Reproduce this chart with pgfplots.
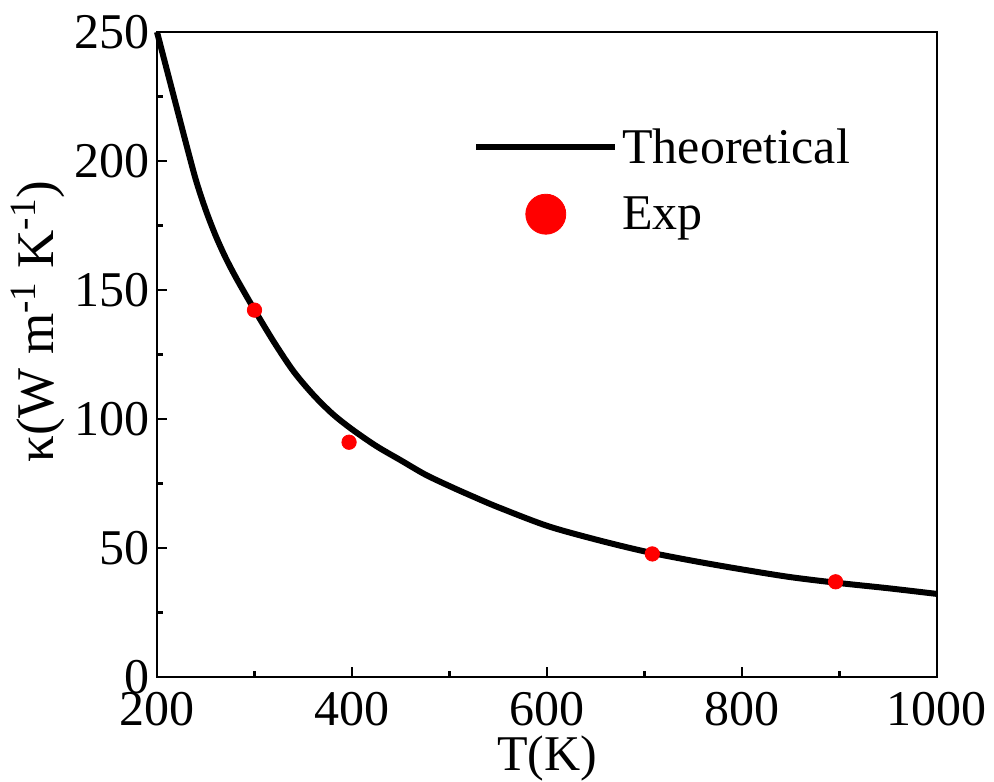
\documentclass[border=0pt]{standalone}
\usepackage{fontspec}
\setmainfont{Liberation Serif}
\usepackage{pgfplots}
\pgfplotsset{compat=1.18}
\begin{document}
\begin{tikzpicture}
\useasboundingbox (-78.5pt,-52pt) rectangle (418.5pt,338.5pt);
\begin{axis}[
  at={(0,0)}, anchor=south west,
  scale only axis,
  width=390pt, height=322.5pt,
  xmin=200, xmax=1000, ymin=0, ymax=250,
  xtick={200,400,600,800,1000},
  ytick={0,50,100,150,200,250},
  minor x tick num=1, minor y tick num=1,
  tick align=inside, tick pos=left,
  major tick length=5pt, minor tick length=3pt,
  every tick/.style={black, line width=1.2pt},
  axis line style={line width=1.3pt},
  /pgf/number format/assume math mode=true,
  /pgf/number format/1000 sep={},
  tick label style={font=\fontsize{25}{25}\selectfont},
  xticklabel style={yshift=-4pt},
  yticklabel style={xshift=0pt},
  label style={font=\fontsize{25}{25}\selectfont},
  xlabel={T(K)},
  xlabel style={at={(axis description cs:0.5,-0.127)}, anchor=center},
  ylabel={κ(W m\textsuperscript{-1} K\textsuperscript{-1})},
  ylabel style={at={(axis description cs:-0.153,0.551)}, anchor=center, font=\fontsize{26.5}{26.5}\selectfont},
  legend style={draw=none, fill=none, at={(rel axis cs:0.405,0.857)}, anchor=north west,
    font=\fontsize{25}{25}\selectfont, row sep=11pt, inner sep=0pt},
  legend cell align=left,
  clip=false,
]
\addplot[black, line width=3pt, smooth, no markers,
  legend image code/.code={\draw[black, line width=3pt] (0pt,0pt) -- (69.5pt,0pt);}]
coordinates {
(200,250) (210,235.5) (220,221) (230,206.5) (240,192.5) (250,181) (260,171.2)
(270,162.8) (280,155.5) (290,148.8) (300,142.3) (320,129.8)
(340,118.5) (360,109.5) (380,102) (400,96) (425,89.5) (450,84) (475,78.5)
(500,74) (525,69.8) (550,65.8) (600,58.6) (650,53.3) (700,48.7) (750,45)
(800,41.7) (850,38.7) (900,36.4) (950,34.4) (1000,32.2)
};
\addlegendentry{Theoretical}
\addplot[only marks, mark=*, mark size=3.6pt, color=red, mark options={fill=red, draw=red},
  legend image code/.code={\fill[red] (34.75pt,0pt) circle (10pt);}]
coordinates {
(300,142.2) (397,91) (708,47.7) (896,36.9)
};
\addlegendentry{Exp}
\end{axis}
\end{tikzpicture}
\end{document}
